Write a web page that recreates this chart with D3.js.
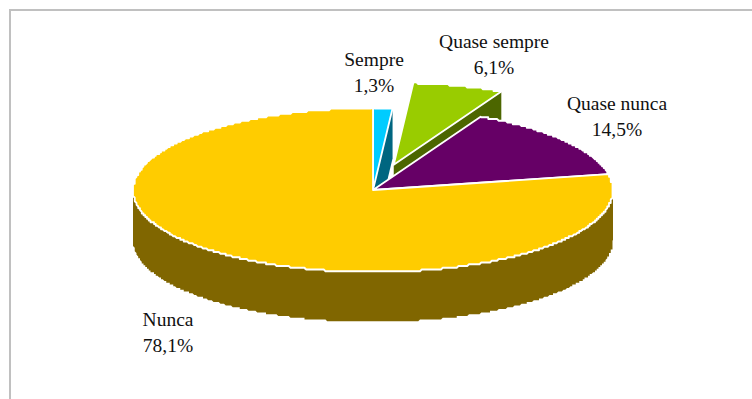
<!DOCTYPE html>
<html>
<head>
<meta charset="utf-8">
<script src="https://cdn.jsdelivr.net/npm/d3@7"></script>
<style>
  html, body { margin: 0; padding: 0; background: #fff; }
  svg { display: block; }
  text { font-family: "Liberation Serif", "Times New Roman", serif; font-size: 19.5px; fill: #111; }
</style>
</head>
<body>
<svg id="chart" width="752" height="399"></svg>
<script>
// Frequency of each answer, in percent
const categories = ["Sempre", "Quase sempre", "Quase nunca", "Nunca"];
const shares = [1.3, 6.1, 14.5, 78.1];
const shareLabels = ["1,3%", "6,1%", "14,5%", "78,1%"];
const topColors = ["#00CCFF", "#99CC00", "#660066", "#FFCC00"];
const sideColors = ["#006680", "#4C6600", "#330033", "#806600"];
const explosion = [0, 0.32, 0, 0];
const labelAnchors = [[374, 66], [494, 48], [617, 110], [168, 326]];

const svg = d3.select("#chart");
const cx = 373, cy = 190, rx = 240, ry = 82, depth = 50;
const stair = 1.75; // coarse pixel grid that gives curved edges their stepped look

// Chart area border: only the top and left edges fall inside the page
svg.append("path")
  .attr("d", "M10,399V10H752")
  .attr("fill", "none")
  .attr("stroke", "#c0c0c0")
  .attr("stroke-width", 2);

const slices = d3.pie().sort(null).value(d => d)(shares).map((s, i) => {
  const mid = (s.startAngle + s.endAngle) / 2;
  return {
    ...s, i,
    ox: cx + explosion[i] * rx * Math.sin(mid),
    oy: cy - explosion[i] * ry * Math.cos(mid)
  };
});

// Point on a slice's rim, tilted into an ellipse; z drops it down the pie's thickness
const rim = (s, a, z = 0) => [s.ox + rx * Math.sin(a), s.oy - ry * Math.cos(a) + z];
const line = d3.line();
const snap = v => Math.round(v / stair) * stair;

// Rim between two angles; interior points snap to the grid, the two ends stay exact
const arcPoints = (s, a0, a1, z = 0) => {
  const n = Math.max(2, Math.ceil(Math.abs(a1 - a0) * 150));
  return d3.range(0, n + 1).map(k => {
    const p = rim(s, a0 + (a1 - a0) * k / n, z);
    return k === 0 || k === n ? p : [snap(p[0]), snap(p[1] - z) + z];
  });
};

const g = svg.append("g");

// Cut faces on the trailing edge of the two small slices
slices.slice(0, 2).forEach(s => {
  g.append("path")
    .attr("d", line([[s.ox, s.oy], rim(s, s.endAngle), rim(s, s.endAngle, depth), [s.ox, s.oy + depth]]) + "Z")
    .attr("fill", sideColors[s.i]);
});

// Outer wall along the front half of the largest slice
const big = slices[3];
g.append("path")
  .attr("d", line([
    ...arcPoints(big, Math.PI / 2, 3 * Math.PI / 2, 0),
    ...arcPoints(big, 3 * Math.PI / 2, Math.PI / 2, depth)
  ]) + "Z")
  .attr("fill", sideColors[3]);

// Top faces
g.selectAll("path.top")
  .data(slices)
  .join("path")
  .attr("class", "top")
  .attr("d", s => line([[s.ox, s.oy], ...arcPoints(s, s.startAngle, s.endAngle)]) + "Z")
  .attr("fill", s => topColors[s.i])
  .attr("stroke", "#fff")
  .attr("stroke-width", 1.8)
  .attr("stroke-linejoin", "round");

// Two-line labels: category, then share
const labels = svg.selectAll("g.label")
  .data(categories)
  .join("g")
  .attr("class", "label")
  .attr("transform", (d, i) => `translate(${labelAnchors[i][0]},${labelAnchors[i][1]})`)
  .attr("text-anchor", "middle");
labels.append("text").text(d => d);
labels.append("text").attr("y", 26).text((d, i) => shareLabels[i]);
</script>
</body>
</html>
